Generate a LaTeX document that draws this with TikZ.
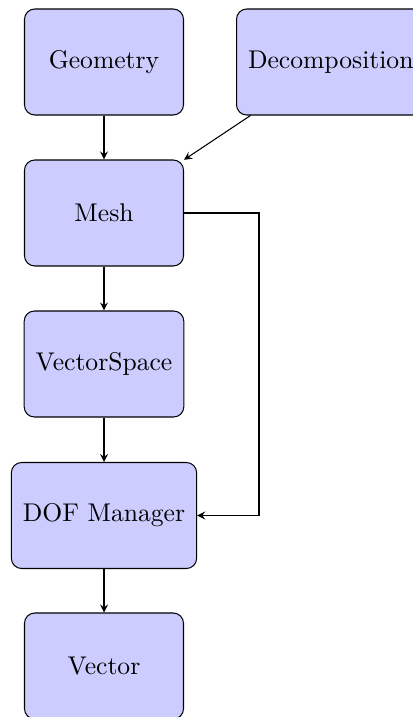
\documentclass[tikz,border=0pt]{standalone}
\usetikzlibrary{arrows}
\begin{document}
\begin{tikzpicture}[x=0.3906pt,y=-0.3906pt,
  box/.style={draw, fill=blue!20, rounded corners, minimum width=62.1pt, minimum height=41.4pt, inner xsep=4.5pt},
  conn/.style={-stealth}]
\useasboundingbox (0,0) rectangle (413,717);
\node[box] (geo) at (104,62) {Geometry};
\node[box, anchor=west] (dec) at (236,62) {Decomposition};
\node[box] (mesh) at (104,213) {Mesh};
\node[box] (vs) at (104,364) {VectorSpace};
\node[box] (dof) at (104,515.5) {DOF Manager};
\node[box] (vec) at (104,666) {Vector};
\draw[conn] (geo) -- (mesh);
\draw[conn] (dec) -- (mesh);
\draw[conn] (mesh) -- (vs);
\draw[conn] (vs) -- (dof);
\draw[conn] (dof) -- (vec);
\draw[conn] (mesh.east) -- (259,213) |- (dof.east);
\end{tikzpicture}
\end{document}
